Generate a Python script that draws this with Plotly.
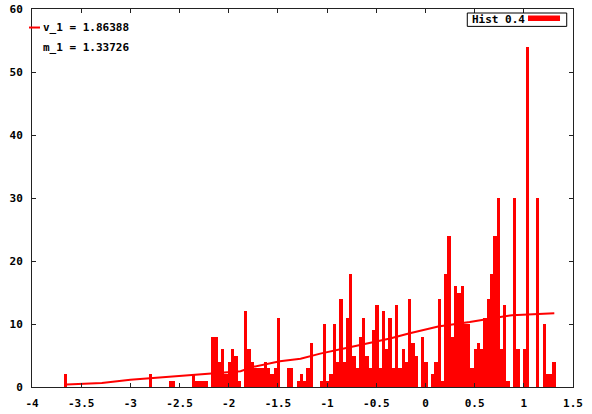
import plotly.graph_objects as go

# ---- data ----
bin_start = -3.66          # centre of first histogram bin
bin_width = 1.0 / 30.0     # histogram bin width
counts = (
    [2] + [0] * 25 + [2] + [0] * 5 + [1, 1] + [0] * 5 + [2, 1, 1, 1, 1, 0,
    8, 8, 4, 6, 2, 4, 6, 5, 1, 0, 12, 6, 4, 3, 3, 3, 4, 3, 2, 3, 11, 0, 0,
    3, 3, 0, 1, 2, 1, 3, 7, 0, 0, 1, 10, 1, 2, 10, 4, 14, 4, 11, 18, 5, 3,
    8, 11, 5, 3, 9, 13, 3, 12, 6, 11, 3, 13, 3, 6, 4, 14, 7, 5, 0, 8, 4, 0,
    2, 4, 14, 1, 18, 24, 8, 16, 15, 16, 10, 10, 3, 6, 7, 6, 11, 14, 18, 24,
    30, 6, 13, 1, 0, 30, 6, 0, 6, 54, 0, 0, 30, 0, 10, 2, 2, 4]
)
bin_centers = [bin_start + i * bin_width for i in range(len(counts))]

curve_x = [-3.65, -3.29, -3.0, -2.8, -2.53, -2.29, -1.88, -1.75, -1.48, -1.27,
           -1.07, -0.77, -0.56, -0.36, -0.17, 0.03, 0.13, 0.45, 0.59, 0.76,
           0.88, 1.28, 1.31]
curve_y = [0.4, 0.63, 1.16, 1.4, 1.7, 1.95, 2.5, 3.2, 4.1, 4.5,
           5.3, 6.3, 7.0, 7.7, 8.5, 9.2, 9.6, 10.3, 10.7, 11.1,
           11.4, 11.6, 11.7]

x_ticks = [-4, -3.5, -3, -2.5, -2, -1.5, -1, -0.5, 0, 0.5, 1, 1.5]
x_tick_text = ["-4", "-3.5", "-3", "-2.5", "-2", "-1.5", "-1", "-0.5", "0", "0.5", "1", "1.5"]
y_ticks = [0, 10, 20, 30, 40, 50, 60]

legend_hist = "Hist 0.4"
label_v = "v_1 = 1.86388"
label_m = "m_1 = 1.33726"

RED = "#ff0000"
FONT = dict(family="DejaVu Sans Mono", size=11, color="#000000", weight="bold")

fig = go.Figure()
fig.add_trace(go.Bar(x=bin_centers, y=counts, width=bin_width,
                     marker=dict(color=RED, line=dict(width=0)),
                     showlegend=False))
fig.add_trace(go.Scatter(x=curve_x, y=curve_y, mode="lines",
                         line=dict(color=RED, width=2), showlegend=False))

axis_common = dict(showgrid=False, zeroline=False, showline=True, linecolor="#222222",
                   linewidth=1, mirror="ticks", ticks="inside", ticklen=4,
                   tickcolor="#222222", tickfont=FONT, automargin=False)
fig.update_xaxes(range=[-4, 1.5], tickvals=x_ticks, ticktext=x_tick_text,
                 ticklabelstandoff=6, **axis_common)
fig.update_yaxes(range=[0, 60], tickvals=y_ticks, ticklabelstandoff=6, **axis_common)

# top-left key
fig.add_shape(type="line", xref="paper", yref="paper", x0=-0.0055, x1=0.0148,
              y0=0.951, y1=0.951, line=dict(color=RED, width=2))
fig.add_annotation(xref="paper", yref="paper", x=0.0166, y=0.9505, xanchor="left",
                   yanchor="middle", text=label_v, showarrow=False, font=FONT)
fig.add_annotation(xref="paper", yref="paper", x=0.0166, y=0.8976, xanchor="left",
                   yanchor="middle", text=label_m, showarrow=False, font=FONT)

# top-right key box
fig.add_shape(type="rect", xref="paper", yref="paper", x0=0.8046, x1=0.9884,
              y0=0.954, y1=0.9894, line=dict(color="#000000", width=1),
              fillcolor="white")
fig.add_annotation(xref="paper", yref="paper", x=0.8087, y=0.9717, xanchor="left",
                   yanchor="middle", text=legend_hist, showarrow=False, font=FONT)
fig.add_shape(type="rect", xref="paper", yref="paper", x0=0.9168, x1=0.976,
              y0=0.9683, y1=0.983, line=dict(width=0), fillcolor=RED)

fig.update_layout(width=592, height=414, margin=dict(l=32, r=19, t=9, b=27),
                  paper_bgcolor="white", plot_bgcolor="white", bargap=0,
                  showlegend=False)

fig.write_html("out.html")
